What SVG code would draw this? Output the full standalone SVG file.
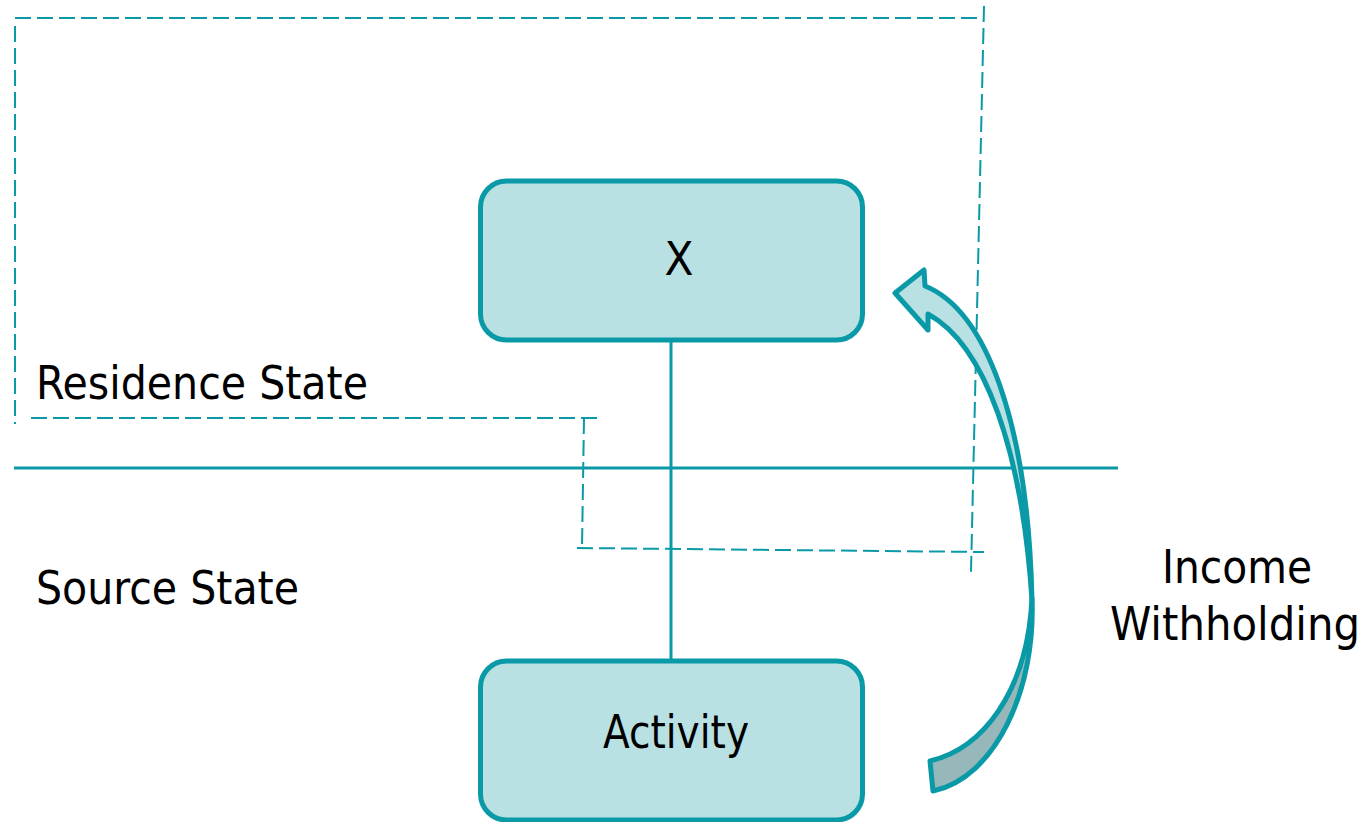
<svg xmlns="http://www.w3.org/2000/svg" width="1369" height="822" viewBox="0 0 1369 822">
<style>
.box{fill:#b9e0e3;stroke:#0a9aa7;stroke-width:5}
.dash{fill:none;stroke:#0a9aa7;stroke-width:2;stroke-dasharray:16 6}
.solid{fill:none;stroke:#0a9aa7;stroke-width:3}
.t{font-family:"DejaVu Sans Condensed","DejaVu Sans",sans-serif;font-size:47px;fill:#000}
.arrow{stroke:#0a9aa7;stroke-width:5;stroke-linejoin:round}
</style>
<rect width="1369" height="822" fill="#fff"/>
<g id="regions">
<path class="dash" d="M15 18 H984"/>
<path class="dash" d="M15 26 V424"/>
<path class="dash" d="M984 6 L971 572"/>
<path class="dash" d="M31 418 H597"/>
<path class="dash" d="M584 418 L582 548"/>
<path class="dash" d="M577 548 L984 552"/>
<path class="solid" d="M14 468 H1118"/>
</g>
<g id="connectors">
<path class="solid" d="M671 342 V660"/>
</g>
<g id="node-x">
<rect class="box" x="480.5" y="181" width="382" height="159" rx="26"/>
<text class="t" x="679" y="275" text-anchor="middle">X</text>
</g>
<g id="node-activity">
<rect class="box" x="480.5" y="661" width="382" height="159" rx="26"/>
<text class="t" x="603" y="748" textLength="146" lengthAdjust="spacingAndGlyphs">Activity</text>
</g>
<g id="labels">
<text class="t" x="36" y="399" textLength="332" lengthAdjust="spacingAndGlyphs">Residence State</text>
<text class="t" x="36" y="604" textLength="263" lengthAdjust="spacingAndGlyphs">Source State</text>
<text class="t" x="1162" y="583" textLength="150" lengthAdjust="spacingAndGlyphs">Income</text>
<text class="t" x="1110" y="640" textLength="250" lengthAdjust="spacingAndGlyphs">Withholding</text>
</g>
<g id="income-arrow">
<path class="arrow" fill="#96b8ba" d="M1032 598 C1036 690 995 778 933 791 L930 761 C985 748 1024 690 1031 612 Z"/>
<path class="arrow" fill="#b9e0e3" d="M895 293 L924 270 L925 286 C985 310 1028 420 1032 600 C1022 450 985 345 928 314 L928 330 Z"/>
</g>
</svg>
